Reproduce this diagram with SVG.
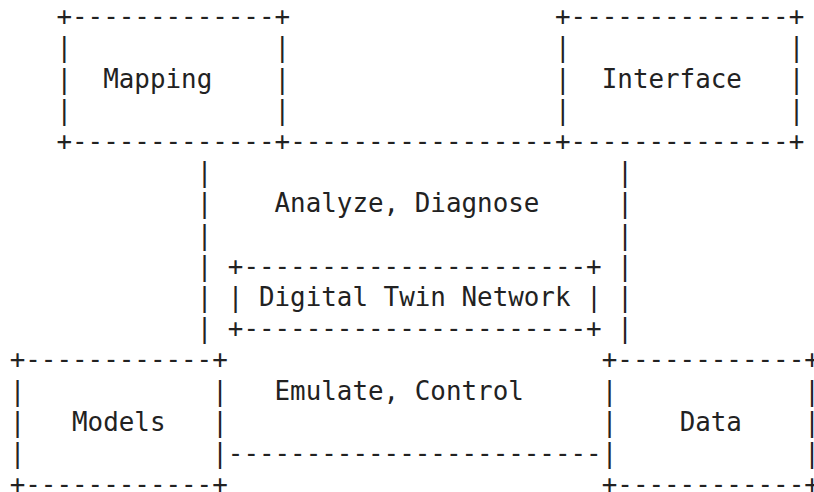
<svg xmlns="http://www.w3.org/2000/svg" width="814" height="492" viewBox="0 0 814 492">
<style>
text{font-family:"DejaVu Sans Mono","Liberation Mono",monospace;font-size:25.88px;fill:#222;white-space:pre}
</style>
<rect width="814" height="492" fill="#fff"/>
<g id="mapping">
<text x="56.44" y="25.1">+-------------+</text>
<text x="56.44" y="56.3">|</text><text x="274.56" y="56.3">|</text>
<text x="56.44" y="87.5">|</text><text x="103.18" y="87.5">Mapping</text><text x="274.56" y="87.5">|</text>
<text x="56.44" y="118.7">|</text><text x="274.56" y="118.7">|</text>
<text x="56.44" y="149.9">+-------------+</text>
</g>
<g id="interface">
<text x="555" y="25.1">+--------------+</text>
<text x="555" y="56.3">|</text><text x="788.7" y="56.3">|</text>
<text x="555" y="87.5">|</text><text x="601.74" y="87.5">Interface</text><text x="788.7" y="87.5">|</text>
<text x="555" y="118.7">|</text><text x="788.7" y="118.7">|</text>
<text x="555" y="149.9">+--------------+</text>
</g>
<g id="digital-twin-network">
<text x="227.82" y="274.7">+----------------------+</text>
<text x="227.82" y="305.9">|</text><text x="258.98" y="305.9">Digital Twin Network</text><text x="586.16" y="305.9">|</text>
<text x="227.82" y="337.1">+----------------------+</text>
</g>
<g id="models">
<text x="9.7" y="368.3">+------------+</text>
<text x="9.7" y="399.5">|</text><text x="212.24" y="399.5">|</text>
<text x="9.7" y="430.7">|</text><text x="72.02" y="430.7">Models</text><text x="212.24" y="430.7">|</text>
<text x="9.7" y="461.9">|</text><text x="212.24" y="461.9">|</text>
<text x="9.7" y="493.1">+------------+</text>
</g>
<g id="data">
<text x="601.74" y="368.3">+------------+</text>
<text x="601.74" y="399.5">|</text><text x="804.28" y="399.5">|</text>
<text x="601.74" y="430.7">|</text><text x="679.64" y="430.7">Data</text><text x="804.28" y="430.7">|</text>
<text x="601.74" y="461.9">|</text><text x="804.28" y="461.9">|</text>
<text x="601.74" y="493.1">+------------+</text>
</g>
<g id="connectors">
<text x="290.14" y="149.9">-----------------</text>
<text x="196.66" y="181.1">|</text><text x="617.32" y="181.1">|</text>
<text x="196.66" y="212.3">|</text><text x="274.56" y="212.3">Analyze, Diagnose</text><text x="617.32" y="212.3">|</text>
<text x="196.66" y="243.5">|</text><text x="617.32" y="243.5">|</text>
<text x="196.66" y="274.7">|</text><text x="617.32" y="274.7">|</text>
<text x="196.66" y="305.9">|</text><text x="617.32" y="305.9">|</text>
<text x="196.66" y="337.1">|</text><text x="617.32" y="337.1">|</text>
<text x="274.56" y="399.5">Emulate, Control</text>
<text x="227.82" y="461.9">------------------------</text>
</g>
</svg>
